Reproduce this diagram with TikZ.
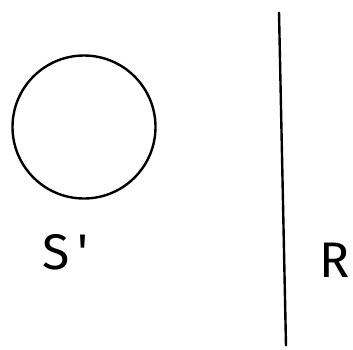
\documentclass[tikz,border=0pt]{standalone}
\usepackage{fontspec}
\setmainfont{Fira Sans}
\begin{document}
\begin{tikzpicture}[x=1pt,y=-1pt,
  stroke/.style={line width=2.4pt,black},
  hand/.style={font=\fontsize{50}{56}\selectfont\mdseries,inner sep=0pt}]
\useasboundingbox (0,0) rectangle (353,349);
\node[stroke,draw,circle,minimum size=143pt,inner sep=0pt] (S) at (84,127) {};
\coordinate (top) at (279,12);
\coordinate (bot) at (286,346);
\draw[stroke] (top) -- (bot);
\node[hand,anchor=west] (slab) at (42,252) {S\hspace{8pt}\textquotesingle};
\node[hand] (rlab) at (335,260) {R};
\end{tikzpicture}
\end{document}
